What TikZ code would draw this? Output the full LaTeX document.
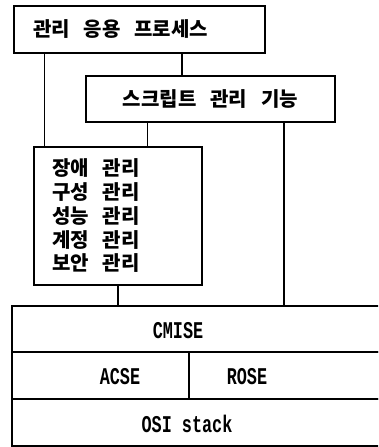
\documentclass[tikz,border=0pt]{standalone}
\usepackage{fontspec}
\newfontfamily\kofont{Noto Sans CJK KR}
\newfontfamily\layerfont[FakeStretch=0.7]{Liberation Mono}
\newcommand{\gap}{\hspace{0.7em}}
\usetikzlibrary{positioning}

\begin{document}
\begin{tikzpicture}[x=1pt,y=-1pt,-,line width=1.2pt,
                    main box/.style={rectangle,draw,line width=1.4pt,inner sep=0pt,font=\kofont\bfseries\fontsize{20}{23.75}\selectfont},
                    layer box/.style={rectangle,draw,line width=1.3pt,inner sep=0pt},
                    layer text/.style={font=\layerfont\bfseries\fontsize{24}{24}\selectfont}]

  \useasboundingbox (0,0) rectangle (378,447);
  \clip (0,0) rectangle (378,447);

  \node[main box,text width=213pt,inner xsep=19pt,minimum height=47pt,align=left] (app) at (139.5,29.5) {관리\gap 응용\gap 프로세스};
  \node[main box,minimum width=249pt,minimum height=46pt] (script) at (210.5,99) {스크립트\gap 관리\gap 기능};
  \node[main box,text width=132pt,inner xsep=18pt,minimum height=138pt,align=left] (funcs) at (118,216)
       {장애\gap 관리\\구성\gap 관리\\성능\gap 관리\\계정\gap 관리\\보안\gap 관리};

  \node[layer box,minimum width=388pt,minimum height=46pt] (cmise) at (206,329) {};
  \node[layer box,minimum width=177pt,minimum height=47pt] (acse) at (100.5,375.5) {};
  \node[layer box,minimum width=211pt,minimum height=47pt] (rose) at (294.5,375.5) {};
  \node[layer box,minimum width=388pt,minimum height=47pt] (osi) at (206,422.5) {};

  \node[layer text] (cmise text) at (178,331) {CMISE};
  \node[layer text] (acse text) at (120,377) {ACSE};
  \node[layer text] (rose text) at (247,377) {ROSE};
  \node[layer text] (osi text) at (187,424) {OSI stack};

  \coordinate (a1) at ([xshift=11pt]funcs.north west);
  \coordinate (a2) at ([xshift=42.5pt]app.south);
  \coordinate (s1) at ([xshift=62pt]script.south west);
  \coordinate (s2) at ([xshift=73.5pt]script.south);

  \draw (a1) -- (a1 |- app.south);
  \draw (a2) -- (a2 |- script.north);
  \draw (s1) -- (s1 |- funcs.north);
  \draw (s2) -- (s2 |- cmise.north);
  \draw (funcs.south) -- (funcs.south |- cmise.north);

\end{tikzpicture}
\end{document}
